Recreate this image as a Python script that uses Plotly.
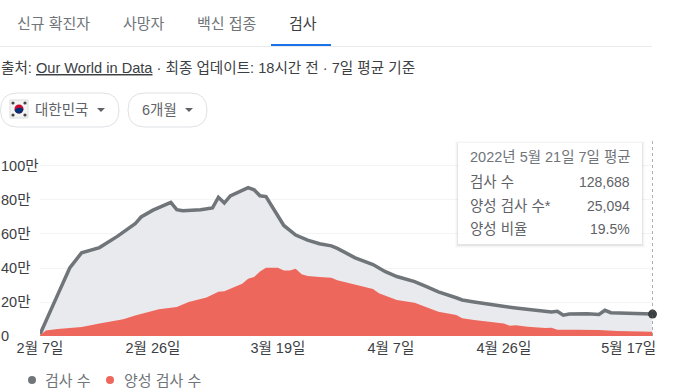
import datetime as dt
import plotly.graph_objects as go

W, H = 691, 391
START = dt.date(2022, 2, 7)

# Days since 7 Feb 2022 and values in 만 (10,000)
test_days = [0, 2, 3, 5, 7, 10, 13, 16, 17, 19, 21, 22, 23, 24, 27, 29, 30, 31, 32, 34, 35, 36, 37, 38,
             40, 41, 43, 45, 47, 49, 50, 53, 56, 58, 60, 63, 65, 67, 70, 71, 73, 75, 77, 80, 82, 84, 86,
             87, 88, 89, 92, 94, 95, 96, 99, 103]
test_vals = [1, 16, 24.5, 40, 49, 52, 58.6, 66, 70, 74, 77, 78.6, 74.3, 73.7, 74.3, 75.3, 81.6, 78.2, 82.4,
             85.7, 87.3, 86, 82.5, 82, 70, 65, 59.4, 56.4, 54.3, 53, 51.5, 46, 42, 38, 35, 32, 29, 26,
             22.5, 21.2, 20, 18.8, 17.9, 16.5, 15.7, 15.1, 14.1, 14.5, 12.2, 12.9, 13.1, 12.7, 15.1, 13.7,
             13.3, 12.87]
pos_days = [0, 1, 3, 7, 10, 14, 16, 18, 20, 23, 25, 28, 30, 31, 34, 35, 36, 37, 38, 40, 41, 42, 43, 44, 45,
            47, 49, 50, 53, 56, 57, 59, 60, 63, 65, 67, 70, 71, 73, 76, 78, 79, 80, 82, 85, 86, 87, 90, 94,
            97, 103]
pos_vals = [0.4, 3.3, 4.1, 5.3, 7.3, 9.8, 12, 13.9, 15.7, 17, 20, 22.7, 26, 26.3, 30.8, 33.7, 34.7, 38, 40.2,
            40.2, 38.6, 38.6, 39.6, 36.3, 35.3, 34.7, 34.3, 32.8, 30, 27.6, 25.1, 22.7, 21.2, 19.6, 16.9,
            14.3, 12.4, 10.4, 9.4, 8.2, 7.3, 6.1, 6.3, 5.5, 4.7, 4.9, 3.7, 3.7, 3.5, 2.9, 2.51]
tick_days = [0, 19, 40, 59, 78, 99]
tick_text = ["2월 7일", "2월 26일", "3월 19일", "4월 7일", "4월 26일", "5월 17일"]
y_ticks = [0, 20, 40, 60, 80, 100]
y_text = ["0", "20만", "40만", "60만", "80만", "100만"]
tabs = ["신규 확진자", "사망자", "백신 접종", "검사"]
tooltip_rows = [("검사 수", "128,688"), ("양성 검사 수*", "25,094"), ("양성 비율", "19.5%")]

FONT = "Liberation Sans, Noto Sans CJK KR, sans-serif"
GREY, DARK, TEXT = "#70757a", "#3c4043", "#5f6368"


def d(n):
    return (START + dt.timedelta(days=n)).isoformat()


def px(x):
    return x / W


def py(y):
    return 1 - y / H


shapes, notes = [], []


def rect(x0, y0, x1, y1, **kw):
    shapes.append(dict(type="rect", xref="paper", yref="paper", x0=px(x0), x1=px(x1), y0=py(y0), y1=py(y1),
                       layer="above", line=kw.pop("line", dict(width=0)), **kw))


def circle(cx, cy, r, color):
    shapes.append(dict(type="circle", xref="paper", yref="paper", x0=px(cx - r), x1=px(cx + r), y0=py(cy - r),
                       y1=py(cy + r), layer="above", fillcolor=color, line=dict(width=0)))


def text(x, y, s, size=13, color=TEXT, anchor="left"):
    notes.append(dict(xref="paper", yref="paper", x=px(x), y=py(y), text=s, showarrow=False, xanchor=anchor,
                      yanchor="middle", align=anchor, borderpad=0,
                      font=dict(family=FONT, size=size, color=color)))


def path(points, fill=None, color="#dadce0", width=1):
    p = "M " + " L ".join(f"{px(a):.5f} {py(b):.5f}" for a, b in points)
    shapes.append(dict(type="path", xref="paper", yref="paper", path=p, layer="above",
                       fillcolor=fill, line=dict(width=width, color=color)))


def chip(x0, x1, y0, y1):
    r = (y1 - y0) / 2
    segs = f"M {px(x0 + r):.5f} {py(y0):.5f} L {px(x1 - r):.5f} {py(y0):.5f} " \
           f"Q {px(x1):.5f} {py(y0):.5f} {px(x1):.5f} {py(y0 + r):.5f} " \
           f"Q {px(x1):.5f} {py(y1):.5f} {px(x1 - r):.5f} {py(y1):.5f} L {px(x0 + r):.5f} {py(y1):.5f} " \
           f"Q {px(x0):.5f} {py(y1):.5f} {px(x0):.5f} {py(y0 + r):.5f} " \
           f"Q {px(x0):.5f} {py(y0):.5f} {px(x0 + r):.5f} {py(y0):.5f} Z"
    shapes.append(dict(type="path", xref="paper", yref="paper", path=segs, layer="above",
                       fillcolor="white", line=dict(width=1, color="#dfe1e5")))


# tabs
for x, s, c in zip([16, 122, 196, 288], tabs, [GREY, GREY, GREY, "#3c4043"]):
    text(x, 23, s, 15, c)
rect(0, 46, 652, 47, fillcolor="#e8eaed")
rect(271, 44, 331, 46, fillcolor="#1a73e8")

# source line
text(0, 68, "출처: <u>Our World in Data</u> · 최종 업데이트: 18시간 전 · 7일 평균 기준", 14.6, DARK)

# chips
chip(0.5, 119, 93, 127)
chip(128, 207, 93, 127)
rect(10, 100, 28, 118, fillcolor="#f4f4f4", line=dict(width=1, color="#dddddd"))
circle(19, 109, 4.5, "#c60c30")
shapes.append(dict(type="path", xref="paper", yref="paper", layer="above", fillcolor="#003478",
                   line=dict(width=0),
                   path=f"M {px(14.5):.5f} {py(110):.5f} Q {px(19):.5f} {py(106):.5f} {px(23.5):.5f} {py(109):.5f} "
                        f"Q {px(22):.5f} {py(113.5):.5f} {px(19):.5f} {py(113.5):.5f} "
                        f"Q {px(15.5):.5f} {py(113.5):.5f} {px(14.5):.5f} {py(110):.5f} Z"))
for cx, cy in [(13, 103), (25, 103), (13, 115), (25, 115)]:
    circle(cx, cy, 1.6, "#444444")
text(34, 110, "대한민국", 14.5, TEXT)
text(141, 110, "6개월", 14.5, TEXT)
path([(97, 108), (105, 108), (101, 112), (97, 108)], fill=TEXT, color=TEXT, width=0)
path([(185, 108), (193, 108), (189, 112), (185, 108)], fill=TEXT, color=TEXT, width=0)

# y tick labels
for v, s in zip(y_ticks, y_text):
    notes.append(dict(xref="paper", yref="y", x=0, y=v, text=s, showarrow=False, xanchor="left",
                      yanchor="middle", borderpad=0, font=dict(family=FONT, size=14.5, color=DARK)))

# crosshair
shapes.append(dict(type="line", xref="x", yref="paper", x0=d(103), x1=d(103), y0=py(336), y1=py(141),
                   layer="above", line=dict(color=TEXT, width=1, dash="dot")))

# tooltip
for grow, alpha in [(3, 0.02), (2, 0.04), (1, 0.08)]:
    rect(458 - grow, 143 - grow + 1, 642 + grow, 244 + grow + 1, fillcolor=f"rgba(60,64,67,{alpha})")
rect(458, 143, 642, 244, fillcolor="white")
text(469, 157, "2022년 5월 21일 7일 평균", 14.5, GREY)
for y, (a, b) in zip([182, 206, 229], tooltip_rows):
    text(469, y, a, 14.5, TEXT)
    text(631, y, b, 14, TEXT, anchor="right")

# legend
circle(32, 380, 4, GREY)
text(44, 380, "검사 수", 15, GREY)
circle(110, 380, 4, "#ee675c")
text(123, 380, "양성 검사 수", 15, GREY)

fig = go.Figure()
fig.add_trace(go.Scatter(x=[d(n) for n in test_days], y=test_vals, mode="lines", name="검사 수",
                         line=dict(color=GREY, width=3.5), fill="tozeroy", fillcolor="#e8eaed",
                         hoverinfo="skip", cliponaxis=False))
fig.add_trace(go.Scatter(x=[d(n) for n in pos_days], y=pos_vals, mode="lines", name="양성 검사 수",
                         line=dict(color="#ee675c", width=0), fill="tozeroy", fillcolor="#ee675c",
                         hoverinfo="skip"))
fig.add_trace(go.Scatter(x=[d(test_days[-1])], y=[test_vals[-1]], mode="markers", showlegend=False,
                         marker=dict(color=DARK, size=9), hoverinfo="skip", cliponaxis=False))

fig.update_layout(
    width=W, height=H, margin=dict(l=0, r=0, t=0, b=0, autoexpand=False), paper_bgcolor="white",
    plot_bgcolor="white", showlegend=False, shapes=shapes, annotations=notes, font=dict(family=FONT),
    xaxis=dict(domain=[px(40), px(652.5)], range=[d(0), d(103)], type="date", tickmode="array", automargin=False,
               tickvals=[d(n) for n in tick_days], ticktext=tick_text, showgrid=False, zeroline=False,
               showline=False, ticks="", ticklabelstandoff=1, tickfont=dict(family=FONT, size=14.5, color=DARK)),
    yaxis=dict(domain=[py(336), py(141)], range=[0, 114.7], tickmode="array", tickvals=y_ticks, automargin=False,
               showticklabels=False, showgrid=True, gridcolor="#f4f4f4", gridwidth=1, zeroline=False,
               showline=False, ticks=""),
)
fig.write_html("out.html", config={"displayModeBar": False},
               post_script="document.body.style.margin='0';document.body.style.overflow='hidden';")
